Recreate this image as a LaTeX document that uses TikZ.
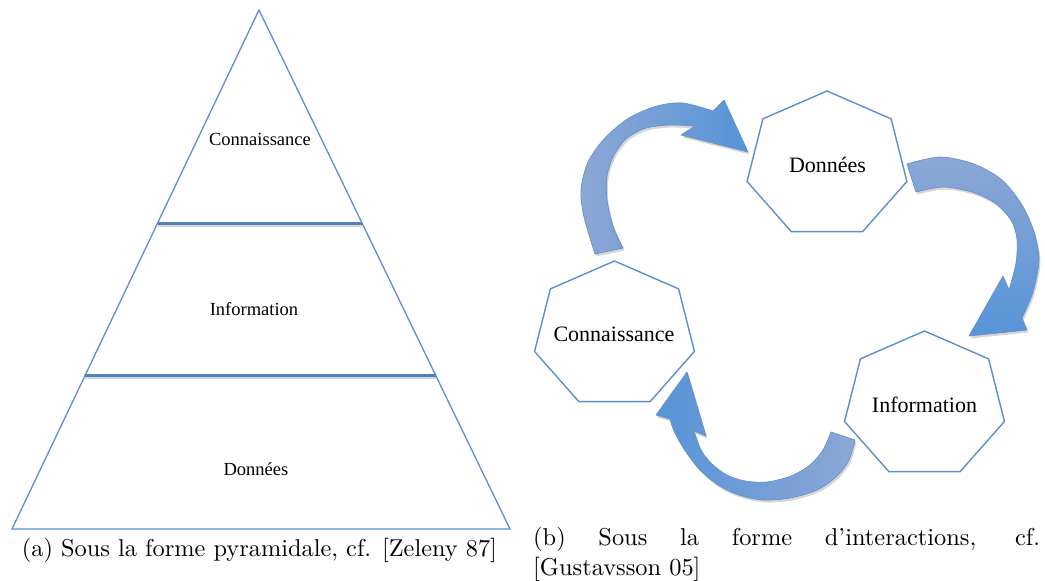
\documentclass[tikz,border=0pt]{standalone}
\usepackage{fontspec}
\newfontfamily\timesf{Liberation Serif}
\usepackage{graphicx}
\usetikzlibrary{calc}
\definecolor{pyrblue}{RGB}{79,129,189}
\definecolor{linblue}{RGB}{91,143,205}
\definecolor{arrtail}{RGB}{140,167,212}
\definecolor{arrhead}{RGB}{86,148,216}
\definecolor{arredge}{RGB}{100,145,205}
\newcommand\myhept[1]{\draw[heptline] ([shift={(#1)}]-90:82 and 74) \foreach \k in {1,...,6}{ -- ([shift={(#1)}]{-90+\k*360/7}:82 and 74)} -- cycle;}
\begin{document}
\begin{tikzpicture}[x=1pt,y=-1pt,
  pyrline/.style={draw=linblue, line width=1.3pt, line join=miter},
  barline/.style={draw=pyrblue, line width=3pt},
  barshadow/.style={draw=black!35, line width=3pt, opacity=.45},
  heptline/.style={draw=linblue, line width=1.4pt, line join=miter},
  pyrtext/.style={font=\timesf\fontsize{18.5}{20}\selectfont, anchor=base, inner sep=0pt},
  hepttext/.style={font=\timesf\fontsize{22}{24}\selectfont, anchor=base, inner sep=0pt},
  captext/.style={inner sep=0pt},
  blockarrow/.style={draw=arredge, line width=0.7pt, line join=round,
    preaction={fill=black, opacity=.16, transform canvas={xshift=1.5pt,yshift=-2.5pt}}},
]
\fill[white] (0,0) rectangle (1045,581);
\useasboundingbox (0,0) rectangle (1045,581);

% ---------- (a) pyramid ----------
\coordinate (apex) at (259,10);
\coordinate (bl) at (12,529);
\coordinate (br) at (510,529);
\draw[pyrline] (apex) -- (br) -- (bl) -- cycle;
\coordinate (l1) at ($(apex)!0.4104!(bl)$);
\coordinate (r1) at ($(apex)!0.4104!(br)$);
\coordinate (l2) at ($(apex)!0.7033!(bl)$);
\coordinate (r2) at ($(apex)!0.7033!(br)$);
\draw[barshadow] ([yshift=-2.5pt]l1) -- ([yshift=-2.5pt]r1);
\draw[barshadow] ([yshift=-2.5pt]l2) -- ([yshift=-2.5pt]r2);
\draw[barline] (l1) -- (r1);
\draw[barline] (l2) -- (r2);
\node[pyrtext] (pC) at (260,145) {Connaissance};
\node[pyrtext] (pI) at (254,315) {Information};
\node[pyrtext] (pD) at (256,475) {Données};

% ---------- (b) cycle ----------
\coordinate (cD) at (827,165);
\coordinate (cC) at (614.5,335);
\coordinate (cI) at (924.5,405);
\myhept{cD}
\myhept{cC}
\myhept{cI}
\node[hepttext] (tD) at (827.5,172) {Données};
\node[hepttext] (tC) at (614,341) {Connaissance};
\node[hepttext] (tI) at (924.5,412) {Information};

% arrow Connaissance -> Donnees
\shadedraw[blockarrow, left color=arrtail, right color=arrhead]
  plot[smooth] coordinates {(595,254) (584,217) (581,190) (588,162) (605,138) (629,118) (657,106) (683,103) (713,111)}
  -- (724,100) -- (748,152) -- (681,135) -- (695,126)
  -- plot[smooth] coordinates {(695,126) (670,125) (646,128) (627,138) (614,155) (607,176) (607,200) (613,226) (623,248)}
  -- cycle;
% arrow Donnees -> Information
\shadedraw[blockarrow, top color=arrtail, bottom color=arrhead]
  plot[smooth] coordinates {(907,164) (940,157) (974,164) (1002,180) (1022,205) (1034,232) (1039,260) (1033,292) (1022,318)}
  -- (1027,330) -- (969,336) -- (1003,276) -- (1009,290)
  -- plot[smooth] coordinates {(1009,290) (1016,263) (1017,239) (1011,220) (995,203) (972,192) (943,187) (916,192)}
  -- cycle;
% arrow Information -> Connaissance
\shadedraw[blockarrow, left color=arrhead, right color=arrtail]
  (670,419) -- (656,415) -- (687,372) -- (706,436) -- (694,431)
  -- plot[smooth] coordinates {(694,431) (701,450) (712,464) (727,475) (745,481) (767,482) (791,476) (810,465) (823,450) (831,432)}
  -- (855,440)
  -- plot[smooth] coordinates {(855,440) (849,460) (837,476) (817,490) (790,498) (763,500) (739,495) (718,485) (699,469) (684,449) (674,431) (670,419)}
  -- cycle;

% ---------- captions ----------
\node[captext, anchor=base] (capA) at (259.5,556) {\resizebox{475pt}{!}{(a) Sous la forme pyramidale, cf. [Zeleny 87]}};
\node[captext, anchor=base west] (capB1) at (533,545) {\scalebox{2.44}{\makebox[207.8pt][s]{(b) Sous la forme d'interactions, cf.}}};
\node[captext, anchor=base west] (capB2) at (533,575) {\scalebox{2.44}{[Gustavsson 05]}};
\end{tikzpicture}
\end{document}
